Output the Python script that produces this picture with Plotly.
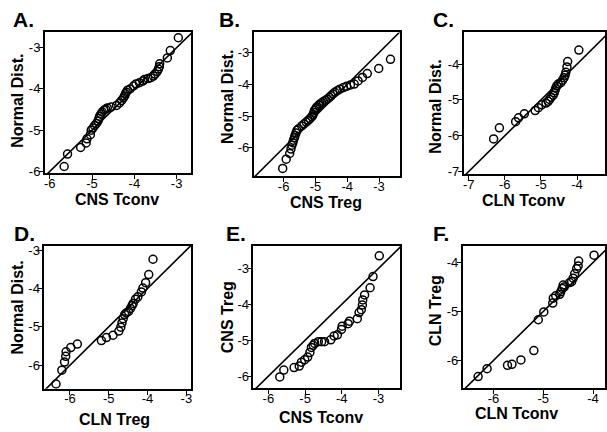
import plotly.graph_objs as go

W, H = 607, 432

# A. CNS Tconv vs Normal Dist.
a_x = [-5.66, -5.58, -5.27, -5.14, -5.12, -5.04, -5.02, -4.98, -4.94, -4.90, -4.86, -4.84,
       -4.82, -4.79, -4.76, -4.72, -4.68, -4.64, -4.55, -4.42, -4.35, -4.30, -4.26, -4.23,
       -4.21, -4.19, -4.16, -4.10, -4.02, -3.96, -3.88, -3.80, -3.76, -3.68, -3.61, -3.55,
       -3.51, -3.46, -3.43, -3.41, -3.40, -3.22, -3.15, -2.96]
a_y = [-5.88, -5.58, -5.42, -5.31, -5.21, -5.11, -5.00, -4.95, -4.89, -4.84, -4.78, -4.72,
       -4.66, -4.61, -4.56, -4.52, -4.49, -4.46, -4.44, -4.40, -4.34, -4.28, -4.22, -4.17,
       -4.12, -4.08, -4.03, -4.00, -3.93, -3.88, -3.85, -3.81, -3.77, -3.75, -3.73, -3.69,
       -3.64, -3.58, -3.52, -3.46, -3.39, -3.25, -3.07, -2.76]

# B. CNS Treg vs Normal Dist.
b_x = [-6.03, -5.92, -5.81, -5.77, -5.74, -5.71, -5.69, -5.66, -5.64, -5.61, -5.58, -5.53,
       -5.43, -5.36, -5.29, -5.22, -5.17, -5.11, -5.08, -5.05, -5.03, -4.99, -4.96, -4.90,
       -4.86, -4.80, -4.75, -4.68, -4.62, -4.56, -4.51, -4.45, -4.39, -4.31, -4.23, -4.12,
       -4.02, -3.90, -3.78, -3.66, -3.52, -3.37, -3.01, -2.64]
b_y = [-6.65, -6.36, -6.18, -6.04, -5.92, -5.84, -5.76, -5.68, -5.61, -5.53, -5.45, -5.40,
       -5.31, -5.25, -5.19, -5.13, -5.08, -5.02, -4.96, -4.89, -4.82, -4.77, -4.72, -4.66,
       -4.62, -4.58, -4.54, -4.50, -4.46, -4.41, -4.36, -4.30, -4.25, -4.20, -4.15, -4.10,
       -4.06, -4.02, -3.99, -3.89, -3.78, -3.66, -3.50, -3.21]

# C. CLN Tconv vs Normal Dist.
c_x = [-6.31, -6.15, -5.70, -5.62, -5.46, -5.16, -5.07, -4.98, -4.86, -4.80, -4.76, -4.72,
       -4.66, -4.63, -4.61, -4.59, -4.56, -4.52, -4.45, -4.40, -4.36, -4.33, -4.31, -4.28,
       -4.26, -3.95]
c_y = [-6.09, -5.78, -5.61, -5.50, -5.39, -5.30, -5.22, -5.14, -5.09, -5.04, -4.99, -4.93,
       -4.87, -4.80, -4.74, -4.67, -4.61, -4.56, -4.52, -4.45, -4.38, -4.31, -4.23, -4.08,
       -3.93, -3.61]

# D. CLN Treg vs Normal Dist.
d_x = [-6.36, -6.21, -6.14, -6.11, -6.10, -5.98, -5.81, -5.19, -5.06, -4.89, -4.74, -4.69,
       -4.66, -4.63, -4.59, -4.55, -4.49, -4.44, -4.40, -4.37, -4.31, -4.25, -4.16, -4.12,
       -4.05, -3.97, -3.86]
d_y = [-6.49, -6.13, -5.92, -5.77, -5.65, -5.54, -5.45, -5.36, -5.28, -5.22, -5.11, -5.01,
       -4.90, -4.79, -4.68, -4.64, -4.60, -4.52, -4.45, -4.39, -4.28, -4.22, -4.09, -3.99,
       -3.85, -3.64, -3.24]

# E. CNS Tconv vs CNS Treg
e_x = [-5.69, -5.58, -5.30, -5.16, -5.10, -5.01, -4.93, -4.87, -4.83, -4.78, -4.74, -4.64,
       -4.55, -4.47, -4.30, -4.21, -4.12, -4.01, -3.99, -3.83, -3.79, -3.58, -3.53, -3.47,
       -3.44, -3.43, -3.38, -3.23, -3.15, -2.98]
e_y = [-6.02, -5.83, -5.76, -5.72, -5.61, -5.54, -5.47, -5.34, -5.20, -5.14, -5.09, -5.04,
       -5.04, -5.04, -4.99, -4.88, -4.85, -4.70, -4.61, -4.54, -4.47, -4.40, -4.23, -4.15,
       -4.02, -3.88, -3.74, -3.54, -3.23, -2.65]

# F. CLN Tconv vs CLN Treg
f_x = [-6.31, -6.13, -5.72, -5.63, -5.45, -5.19, -5.10, -4.99, -4.81, -4.80, -4.75, -4.67,
       -4.65, -4.62, -4.60, -4.58, -4.47, -4.43, -4.40, -4.37, -4.33, -4.30, -4.29, -3.98]
f_y = [-6.33, -6.17, -6.10, -6.08, -5.99, -5.80, -5.17, -5.01, -4.83, -4.73, -4.68, -4.65,
       -4.60, -4.53, -4.46, -4.50, -4.41, -4.39, -4.32, -4.23, -4.13, -4.07, -3.97, -3.85]

ticks_a = [-6, -5, -4, -3]
ticks_c = [-7, -6, -5, -4]
ticks_f = [-6, -5, -4]

# letter, x, y, x title, y title, ticks x, ticks y,
# box px (x0, x1, y0, y1), ranges, letter pos, xtitle pos, ytitle pos
panels = [
    ("A.", a_x, a_y, "CNS Tconv", "Normal Dist.", ticks_a, ticks_a,
     (44, 191, 30, 174), (-6.118, -2.659), (-6.047, -2.63), (23, 17), (117, 201), (17, 100)),
    ("B.", b_x, b_y, "CNS Treg", "Normal Dist.", ticks_a, ticks_a,
     (254, 401, 30, 177), (-6.94, -2.34), (-6.90, -2.36), (230, 17), (327, 204), (227, 96)),
    ("C.", c_x, c_y, "CLN Tconv", "Normal Dist.", ticks_c, ticks_c,
     (465, 607, 30, 175), (-7.138, -3.226), (-7.079, -3.117), (445, 17), (525, 202), (437, 106)),
    ("D.", d_x, d_y, "CLN Treg", "Normal Dist.", ticks_a, ticks_a,
     (43.5, 191, 248, 394), (-6.662, -2.879), (-6.615, -2.89), (24, 235), (114, 425), (17, 311)),
    ("E.", e_x, e_y, "CNS Tconv", "CNS Treg", ticks_a, ticks_a,
     (253.7, 401, 247.7, 393.5), (-6.407, -2.415), (-6.338, -2.365), (236, 235), (322, 423), (227, 321)),
    ("F.", f_x, f_y, "CLN Tconv", "CLN Treg", ticks_f, ticks_f,
     (464, 607, 247.7, 393.3), (-6.62, -3.76), (-6.566, -3.654), (442, 235), (518, 419), (437, 314)),
]

FONT = "Liberation Sans, Arial, sans-serif"
traces = []
layout = dict(
    width=W, height=H,
    margin=dict(l=0, r=0, t=0, b=0),
    paper_bgcolor="white", plot_bgcolor="white",
    showlegend=False,
    font=dict(family=FONT, color="black", size=13),
    annotations=[],
)

for i, (letter, xs, ys, xt, yt, xtk, ytk, box, xr, yr, lp, xp, yp) in enumerate(panels):
    n = "" if i == 0 else str(i + 1)
    xa, ya = "x" + n, "y" + n
    lo = min(xr[0], yr[0])
    hi = max(xr[1], yr[1])
    # identity line y = x
    traces.append(go.Scatter(
        x=[lo, hi], y=[lo, hi], xaxis=xa, yaxis=ya, mode="lines",
        line=dict(color="black", width=1.6), hoverinfo="skip",
    ))
    traces.append(go.Scatter(
        x=xs, y=ys, xaxis=xa, yaxis=ya, mode="markers",
        marker=dict(symbol="circle-open", size=8, color="black",
                    line=dict(color="black", width=1.5)),
    ))
    x0, x1, y0, y1 = box
    common = dict(showgrid=False, zeroline=False, showline=True, linecolor="black",
                  linewidth=1.6, mirror=True, ticks="outside", ticklen=4, tickwidth=1.3,
                  tickcolor="black", tickfont=dict(size=13, family=FONT, color="black"))
    layout["xaxis" + n] = dict(
        common, domain=[x0 / W, x1 / W], range=list(xr), anchor=ya,
        tickvals=xtk, ticktext=["%d" % v for v in xtk], ticklabelstandoff=-7,
    )
    layout["yaxis" + n] = dict(
        common, domain=[1 - y1 / H, 1 - y0 / H], range=list(yr), anchor=xa,
        tickvals=ytk, ticktext=["%d" % v for v in ytk], ticklabelstandoff=-4,
    )
    layout["annotations"] += [
        dict(text="<b>%s</b>" % letter, x=lp[0] / W, y=1 - lp[1] / H, xref="paper", yref="paper",
             showarrow=False, font=dict(size=21, family=FONT), xanchor="center", yanchor="middle"),
        dict(text="<b>%s</b>" % xt, x=xp[0] / W, y=1 - xp[1] / H, xref="paper", yref="paper",
             showarrow=False, font=dict(size=16, family=FONT), xanchor="center", yanchor="middle"),
        dict(text="<b>%s</b>" % yt, x=yp[0] / W, y=1 - yp[1] / H, xref="paper", yref="paper",
             showarrow=False, font=dict(size=16, family=FONT), textangle=-90,
             xanchor="center", yanchor="middle"),
    ]

fig = go.Figure(data=traces, layout=go.Layout(layout))
fig.write_html("out.html", config={"displayModeBar": False},
               post_script="document.body.style.margin = '0';")
